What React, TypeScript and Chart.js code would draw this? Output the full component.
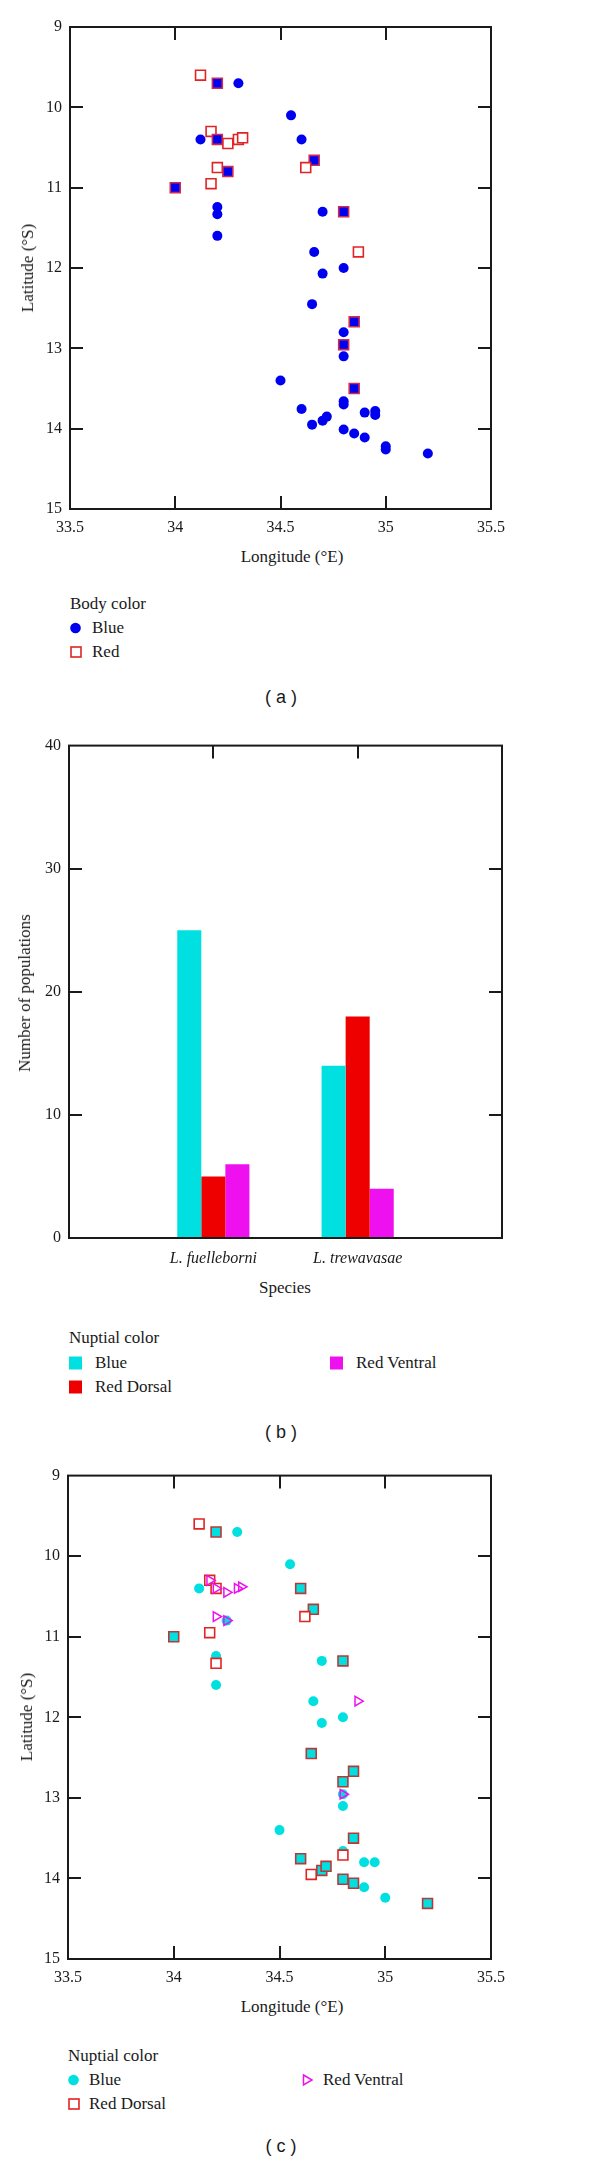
import React, { useEffect, useRef } from 'react';
import { Chart, registerables } from 'chart.js';

Chart.register(...registerables);

// ---------- shared tick labels ----------
const lonTicks = [33.5, 34, 34.5, 35, 35.5];
const latTicks = [9, 10, 11, 12, 13, 14, 15];
const countTicks = [0, 10, 20, 30, 40];

// ---------- panel (a): body color ----------
const bodyBlue: [number, number][] = [
  [34.3, 9.7], [34.2, 9.7], [34.55, 10.1], [34.12, 10.4], [34.2, 10.4], [34.6, 10.4],
  [34.66, 10.66], [34.25, 10.8], [34.0, 11.0], [34.2, 11.24], [34.2, 11.33], [34.7, 11.3],
  [34.8, 11.3], [34.2, 11.6], [34.66, 11.8], [34.8, 12.0], [34.7, 12.07], [34.65, 12.45],
  [34.85, 12.67], [34.8, 12.8], [34.8, 12.955], [34.8, 13.1], [34.5, 13.4], [34.85, 13.5],
  [34.8, 13.66], [34.8, 13.7], [34.6, 13.755], [34.9, 13.8], [34.95, 13.78], [34.95, 13.83],
  [34.72, 13.85], [34.7, 13.9], [34.65, 13.95], [34.8, 14.01], [34.85, 14.06], [34.9, 14.11],
  [35.0, 14.22], [35.0, 14.26], [35.2, 14.31],
];
const bodyRed: [number, number][] = [
  [34.12, 9.6], [34.2, 9.7], [34.17, 10.3], [34.2, 10.4], [34.25, 10.45], [34.3, 10.4],
  [34.32, 10.38], [34.2, 10.75], [34.25, 10.8], [34.17, 10.95], [34.0, 11.0], [34.66, 10.66],
  [34.62, 10.75], [34.8, 11.3], [34.87, 11.8], [34.85, 12.67], [34.8, 12.955], [34.85, 13.5],
];

// ---------- panel (b): nuptial color counts ----------
const species = ['L. fuelleborni', 'L. trewavasae'];
const blueCounts = [25, 14];
const redDorsalCounts = [5, 18];
const redVentralCounts = [6, 4];

// ---------- panel (c): nuptial color map ----------
const nuptialBlue: [number, number][] = [
  [34.3, 9.7], [34.2, 9.7], [34.55, 10.1], [34.12, 10.4], [34.6, 10.4], [34.66, 10.66],
  [34.25, 10.8], [34.0, 11.0], [34.2, 11.24], [34.7, 11.3], [34.8, 11.3], [34.2, 11.6],
  [34.66, 11.8], [34.8, 12.0], [34.7, 12.07], [34.65, 12.45], [34.85, 12.67], [34.8, 12.8],
  [34.8, 12.955], [34.8, 13.1], [34.5, 13.4], [34.85, 13.5], [34.8, 13.66], [34.6, 13.755],
  [34.9, 13.8], [34.95, 13.8], [34.72, 13.85], [34.7, 13.9], [34.8, 14.01], [34.85, 14.06],
  [34.9, 14.11], [35.0, 14.24], [35.2, 14.31],
];
const nuptialRedDorsal: [number, number][] = [
  [34.12, 9.6], [34.2, 9.7], [34.17, 10.3], [34.2, 10.4], [34.6, 10.4], [34.66, 10.66],
  [34.62, 10.75], [34.17, 10.95], [34.0, 11.0], [34.2, 11.33], [34.8, 11.3], [34.65, 12.45],
  [34.85, 12.67], [34.8, 12.8], [34.85, 13.5], [34.8, 13.71], [34.6, 13.755], [34.65, 13.95],
  [34.7, 13.9], [34.72, 13.85], [34.8, 14.01], [34.85, 14.06], [35.2, 14.31],
];
const nuptialRedVentral: [number, number][] = [
  [34.17, 10.3], [34.2, 10.4], [34.25, 10.45], [34.3, 10.4], [34.32, 10.38], [34.2, 10.75],
  [34.25, 10.8], [34.87, 11.8], [34.8, 12.955],
];

// ---------- styling ----------
const SERIF = "'Liberation Serif', 'DejaVu Serif', serif";
const SANS = "'Liberation Sans', Arial, sans-serif";
const INK = '#1a1a1a';
const BLUE = '#0000f0';
const CYAN = '#00e0e0';
const RED = '#e02424';
const RED_BAR = '#ee0000';
const MAGENTA = '#ee10ee';

const framePlugin = {
  id: 'frame',
  beforeDatasetsDraw(chart: any, _args: any, opts: any) {
    const { ctx, chartArea: a, scales } = chart;
    const len = 13;
    ctx.save();
    ctx.strokeStyle = INK;
    ctx.lineWidth = 2;
    ctx.beginPath();
    (opts.xTicks || []).forEach((v: number) => {
      const px = Math.round(scales.x.getPixelForValue(v));
      ctx.moveTo(px, a.top);
      ctx.lineTo(px, a.top + len);
      ctx.moveTo(px, a.bottom);
      ctx.lineTo(px, a.bottom - len);
    });
    (opts.yTicks || []).forEach((v: number) => {
      const py = Math.round(scales.y.getPixelForValue(v));
      ctx.moveTo(a.left, py);
      ctx.lineTo(a.left + len, py);
      ctx.moveTo(a.right, py);
      ctx.lineTo(a.right - len, py);
    });
    ctx.stroke();
    ctx.restore();
  },
  afterDatasetsDraw(chart: any) {
    const { ctx, chartArea: a } = chart;
    ctx.save();
    ctx.strokeStyle = INK;
    ctx.lineWidth = 2;
    ctx.strokeRect(a.left, a.top, a.right - a.left, a.bottom - a.top);
    ctx.restore();
  },
};

const pts = (list: [number, number][]) => list.map(([x, y]) => ({ x, y }));
const overlaps = (p: [number, number], under: [number, number][]) =>
  under.some((q) => q[0] === p[0] && q[1] === p[1]);

const tickFont = { family: SERIF, size: 16 };

function mapConfig(
  blue: [number, number][],
  blueColor: string,
  red: [number, number][],
  ventral: [number, number][] | null,
  filledBorder: string,
  geom: { left: number; right: number; top: number; xh: number }
): any {
  const datasets: any[] = [
    {
      label: 'Blue',
      data: pts(blue),
      pointStyle: 'circle',
      pointRadius: 5,
      pointBackgroundColor: blueColor,
      pointBorderWidth: 0,
      order: 3,
    },
    {
      label: 'Red',
      data: pts(red),
      pointStyle: 'rect',
      pointRadius: 7,
      pointBackgroundColor: red.map((p) => (overlaps(p, blue) ? blueColor : '#ffffff')),
      pointBorderColor: red.map((p) => (overlaps(p, blue) ? filledBorder : RED)),
      pointBorderWidth: 1.6,
      order: 2,
    },
  ];
  if (ventral) {
    datasets.push({
      label: 'Red Ventral',
      data: pts(ventral),
      pointStyle: 'triangle',
      pointRotation: 90,
      pointRadius: 5.5,
      pointBackgroundColor: 'rgba(0,0,0,0)',
      pointBorderColor: MAGENTA,
      pointBorderWidth: 1.5,
      order: 1,
    });
  }
  return {
    type: 'scatter',
    data: { datasets },
    plugins: [framePlugin],
    options: {
      responsive: false,
      animation: false,
      events: [],
      layout: { padding: { left: 0, right: 600 - geom.right, top: geom.top, bottom: 0 } },
      plugins: {
        legend: { display: false },
        tooltip: { enabled: false },
        frame: { xTicks: [34, 34.5, 35], yTicks: [10, 11, 12, 13, 14] },
      },
      scales: {
        x: {
          type: 'linear',
          min: 33.5,
          max: 35.5,
          afterBuildTicks: (s: any) => { s.ticks = lonTicks.map((v) => ({ value: v })); },
          afterFit: (s: any) => { s.height = geom.xh; },
          grid: { display: false, drawTicks: false },
          border: { display: false },
          ticks: { padding: 9, font: tickFont, color: INK, maxRotation: 0, autoSkip: false, callback: (v: any) => String(v) },
        },
        y: {
          type: 'linear',
          reverse: true,
          min: 9,
          max: 15,
          afterBuildTicks: (s: any) => { s.ticks = latTicks.map((v) => ({ value: v })); },
          afterFit: (s: any) => { s.width = geom.left; },
          grid: { display: false, drawTicks: false },
          border: { display: false },
          ticks: { padding: 8, font: tickFont, color: INK, autoSkip: false, callback: (v: any) => String(v) },
        },
      },
    },
  };
}

function barConfig(): any {
  const pad = (arr: number[]) => [null, ...arr, null];
  const common = { borderWidth: 0, categoryPercentage: 0.5, barPercentage: 1 };
  return {
    type: 'bar',
    data: {
      labels: ['', ...species, ''],
      datasets: [
        { label: 'Blue', data: pad(blueCounts), backgroundColor: CYAN, ...common },
        { label: 'Red Dorsal', data: pad(redDorsalCounts), backgroundColor: RED_BAR, ...common },
        { label: 'Red Ventral', data: pad(redVentralCounts), backgroundColor: MAGENTA, ...common },
      ],
    },
    plugins: [framePlugin],
    options: {
      responsive: false,
      animation: false,
      events: [],
      layout: { padding: { left: 0, right: 98, top: 15, bottom: 0 } },
      plugins: {
        legend: { display: false },
        tooltip: { enabled: false },
        frame: { xTicks: [1, 2], yTicks: [10, 20, 30] },
      },
      scales: {
        x: {
          type: 'category',
          offset: false,
          afterFit: (s: any) => { s.height = 37; },
          grid: { display: false, drawTicks: false },
          border: { display: false },
          ticks: { padding: 11, font: { ...tickFont, style: 'italic' }, color: INK, maxRotation: 0, autoSkip: false },
        },
        y: {
          type: 'linear',
          min: 0,
          max: 40,
          afterBuildTicks: (s: any) => { s.ticks = countTicks.map((v) => ({ value: v })); },
          afterFit: (s: any) => { s.width = 69; },
          grid: { display: false, drawTicks: false },
          border: { display: false },
          ticks: { padding: 8, font: tickFont, color: INK, autoSkip: false, callback: (v: any) => String(v) },
        },
      },
    },
  };
}

function ChartCanvas({ top, height, make }: { top: number; height: number; make: () => any }) {
  const ref = useRef<HTMLCanvasElement>(null);
  useEffect(() => {
    const chart = new Chart(ref.current as HTMLCanvasElement, make());
    return () => chart.destroy();
  }, []);
  return (
    <canvas
      ref={ref}
      width={600}
      height={height}
      style={{ position: 'absolute', left: 0, top, width: 600, height, display: 'block' }}
    />
  );
}

const LH = 20;
function Txt({ x, cy, children, center, size = 17, font = SERIF, rotate }: any) {
  const style: any = {
    position: 'absolute',
    left: x,
    top: cy - LH / 2,
    height: LH,
    lineHeight: LH + 'px',
    fontFamily: font,
    fontSize: size,
    color: INK,
    whiteSpace: 'nowrap',
  };
  if (center) style.transform = 'translateX(-50%)';
  if (rotate) {
    style.top = cy;
    style.transform = 'translate(-50%, -50%) rotate(-90deg)';
  }
  return <div style={style}>{children}</div>;
}

function Sym({ x, cy, kind, color }: any) {
  const s = 14;
  let shape: any = null;
  if (kind === 'circle') shape = <circle cx={5.5} cy={7} r={5.3} fill={color} />;
  if (kind === 'hollowSquare') shape = <rect x={1} y={2} width={10} height={10} fill="#fff" stroke={color} strokeWidth={1.6} />;
  if (kind === 'square') shape = <rect x={0} y={0.5} width={13} height={13} fill={color} />;
  if (kind === 'triangle') shape = <polygon points="1.5,2 10,7 1.5,12" fill="none" stroke={color} strokeWidth={1.5} />;
  return (
    <svg width={s} height={s} style={{ position: 'absolute', left: x, top: cy - s / 2 }}>
      {shape}
    </svg>
  );
}

export default function App() {
  return (
    <div style={{ position: 'absolute', left: 0, top: 0, width: 600, height: 2162, background: '#fff' }}>
      {/* (a) */}
      <ChartCanvas
        top={0}
        height={545}
        make={() => mapConfig(bodyBlue, BLUE, bodyRed, null, '#d02a50', { left: 70, right: 491, top: 27, xh: 36 })}
      />
      <Txt x={28} cy={268} rotate>Latitude (°S)</Txt>
      <Txt x={292} cy={557} center>Longitude (°E)</Txt>
      <Txt x={70} cy={604}>Body color</Txt>
      <Sym x={70} cy={628} kind="circle" color={BLUE} />
      <Txt x={92} cy={628}>Blue</Txt>
      <Sym x={70} cy={652} kind="hollowSquare" color={RED} />
      <Txt x={92} cy={652}>Red</Txt>
      <Txt x={281} cy={697} center font={SANS} size={18}>( a )</Txt>

      {/* (b) */}
      <ChartCanvas top={728} height={547} make={barConfig} />
      <Txt x={25} cy={993} rotate>Number of populations</Txt>
      <Txt x={285} cy={1288} center>Species</Txt>
      <Txt x={69} cy={1338}>Nuptial color</Txt>
      <Sym x={69} cy={1363} kind="square" color={CYAN} />
      <Txt x={95} cy={1363}>Blue</Txt>
      <Sym x={69} cy={1387} kind="square" color={RED_BAR} />
      <Txt x={95} cy={1387}>Red Dorsal</Txt>
      <Sym x={330} cy={1363} kind="square" color={MAGENTA} />
      <Txt x={356} cy={1363}>Red Ventral</Txt>
      <Txt x={281} cy={1432} center font={SANS} size={18}>( b )</Txt>

      {/* (c) */}
      <ChartCanvas
        top={1458}
        height={537}
        make={() =>
          mapConfig(nuptialBlue, CYAN, nuptialRedDorsal, nuptialRedVentral, '#b83838', { left: 68, right: 491, top: 16, xh: 36 })
        }
      />
      <Txt x={27} cy={1717} rotate>Latitude (°S)</Txt>
      <Txt x={292} cy={2007} center>Longitude (°E)</Txt>
      <Txt x={68} cy={2056}>Nuptial color</Txt>
      <Sym x={68} cy={2080} kind="circle" color={CYAN} />
      <Txt x={89} cy={2080}>Blue</Txt>
      <Sym x={68} cy={2104} kind="hollowSquare" color={RED} />
      <Txt x={89} cy={2104}>Red Dorsal</Txt>
      <Sym x={302} cy={2080} kind="triangle" color={MAGENTA} />
      <Txt x={323} cy={2080}>Red Ventral</Txt>
      <Txt x={281} cy={2146} center font={SANS} size={18}>( c )</Txt>
    </div>
  );
}
